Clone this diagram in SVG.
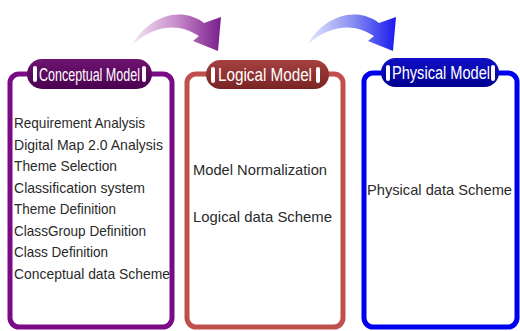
<svg xmlns="http://www.w3.org/2000/svg" width="520" height="331" viewBox="0 0 520 331">
<defs>
<linearGradient id="gArrP" x1="0" y1="0" x2="1" y2="0">
<stop offset="0" stop-color="#f3e6f3"/>
<stop offset="0.5" stop-color="#c78ac9"/>
<stop offset="1" stop-color="#7a1e8c"/>
</linearGradient>
<linearGradient id="gArrB" x1="0" y1="0" x2="1" y2="0">
<stop offset="0" stop-color="#e6e8ff"/>
<stop offset="0.5" stop-color="#8a90f0"/>
<stop offset="1" stop-color="#1a1af0"/>
</linearGradient>
<linearGradient id="gPillC" x1="0" y1="0" x2="0" y2="1">
<stop offset="0" stop-color="#6e1470"/>
<stop offset="1" stop-color="#4a0050"/>
</linearGradient>
<linearGradient id="gPillL" x1="0" y1="0" x2="0" y2="1">
<stop offset="0" stop-color="#a64040"/>
<stop offset="1" stop-color="#7a2424"/>
</linearGradient>
<linearGradient id="gPillP" x1="0" y1="0" x2="0" y2="1">
<stop offset="0" stop-color="#1010c8"/>
<stop offset="1" stop-color="#000090"/>
</linearGradient>
</defs>
<style>
.frame{fill:#ffffff;stroke-width:5}
.body{font-family:"Liberation Sans",Arial,sans-serif;font-size:15px;fill:#2a2a2a}
.title{font-family:"Liberation Sans",Arial,sans-serif;font-size:18px;fill:#ffffff}
.bar{fill:#ffffff}
</style>
<rect width="520" height="331" fill="#ffffff"/>
<g id="conceptual">
<rect class="frame" x="10" y="74" width="162" height="253" rx="9" stroke="#7b0a86"/>
<rect x="27" y="59" width="125" height="30" rx="15" fill="url(#gPillC)"/>
<rect class="bar" x="33" y="66" width="4" height="16" rx="2"/>
<rect class="bar" x="142" y="66" width="4" height="16" rx="2"/>
<text class="title" x="39" y="81" textLength="101" lengthAdjust="spacingAndGlyphs">Conceptual Model</text>
<text class="body" x="14" y="128" textLength="131" lengthAdjust="spacingAndGlyphs">Requirement Analysis</text>
<text class="body" x="14" y="150" textLength="149" lengthAdjust="spacingAndGlyphs">Digital Map 2.0 Analysis</text>
<text class="body" x="14" y="171" textLength="103" lengthAdjust="spacingAndGlyphs">Theme Selection</text>
<text class="body" x="14" y="193" textLength="131" lengthAdjust="spacingAndGlyphs">Classification system</text>
<text class="body" x="14" y="214" textLength="102" lengthAdjust="spacingAndGlyphs">Theme Definition</text>
<text class="body" x="14" y="236" textLength="132" lengthAdjust="spacingAndGlyphs">ClassGroup Definition</text>
<text class="body" x="14" y="257" textLength="94" lengthAdjust="spacingAndGlyphs">Class Definition</text>
<text class="body" x="14" y="279" textLength="156" lengthAdjust="spacingAndGlyphs">Conceptual data Scheme</text>
</g>
<g id="logical">
<rect class="frame" x="187" y="74" width="156" height="253" rx="9" stroke="#c0504d"/>
<rect x="206" y="60" width="123" height="29" rx="14.5" fill="url(#gPillL)"/>
<rect class="bar" x="211" y="67" width="4" height="16" rx="2"/>
<rect class="bar" x="316" y="67" width="4" height="16" rx="2"/>
<text class="title" x="218" y="81" textLength="94" lengthAdjust="spacingAndGlyphs">Logical Model</text>
<text class="body" x="193" y="175" textLength="134" lengthAdjust="spacingAndGlyphs">Model Normalization</text>
<text class="body" x="193" y="222" textLength="139" lengthAdjust="spacingAndGlyphs">Logical data Scheme</text>
</g>
<g id="physical">
<rect class="frame" x="364" y="73" width="153" height="254" rx="9" stroke="#0000f0"/>
<rect x="381" y="58" width="118" height="29" rx="14.5" fill="url(#gPillP)"/>
<rect class="bar" x="386" y="65" width="4" height="16" rx="2"/>
<rect class="bar" x="491" y="65" width="4" height="16" rx="2"/>
<text class="title" x="392" y="79" textLength="98" lengthAdjust="spacingAndGlyphs">Physical Model</text>
<text class="body" x="367" y="195" textLength="145" lengthAdjust="spacingAndGlyphs">Physical data Scheme</text>
</g>
<g id="connectors">
<path d="M133 44 C146 20 178 4 204 23 L221 17 L218 51 L193 41 L199 36 C180 23 156 24 133 44 Z" fill="url(#gArrP)"/>
<path d="M308 44 C321 20 353 4 379 23 L396 17 L393 51 L368 41 L374 36 C355 23 331 24 308 44 Z" fill="url(#gArrB)"/>
</g>
</svg>
